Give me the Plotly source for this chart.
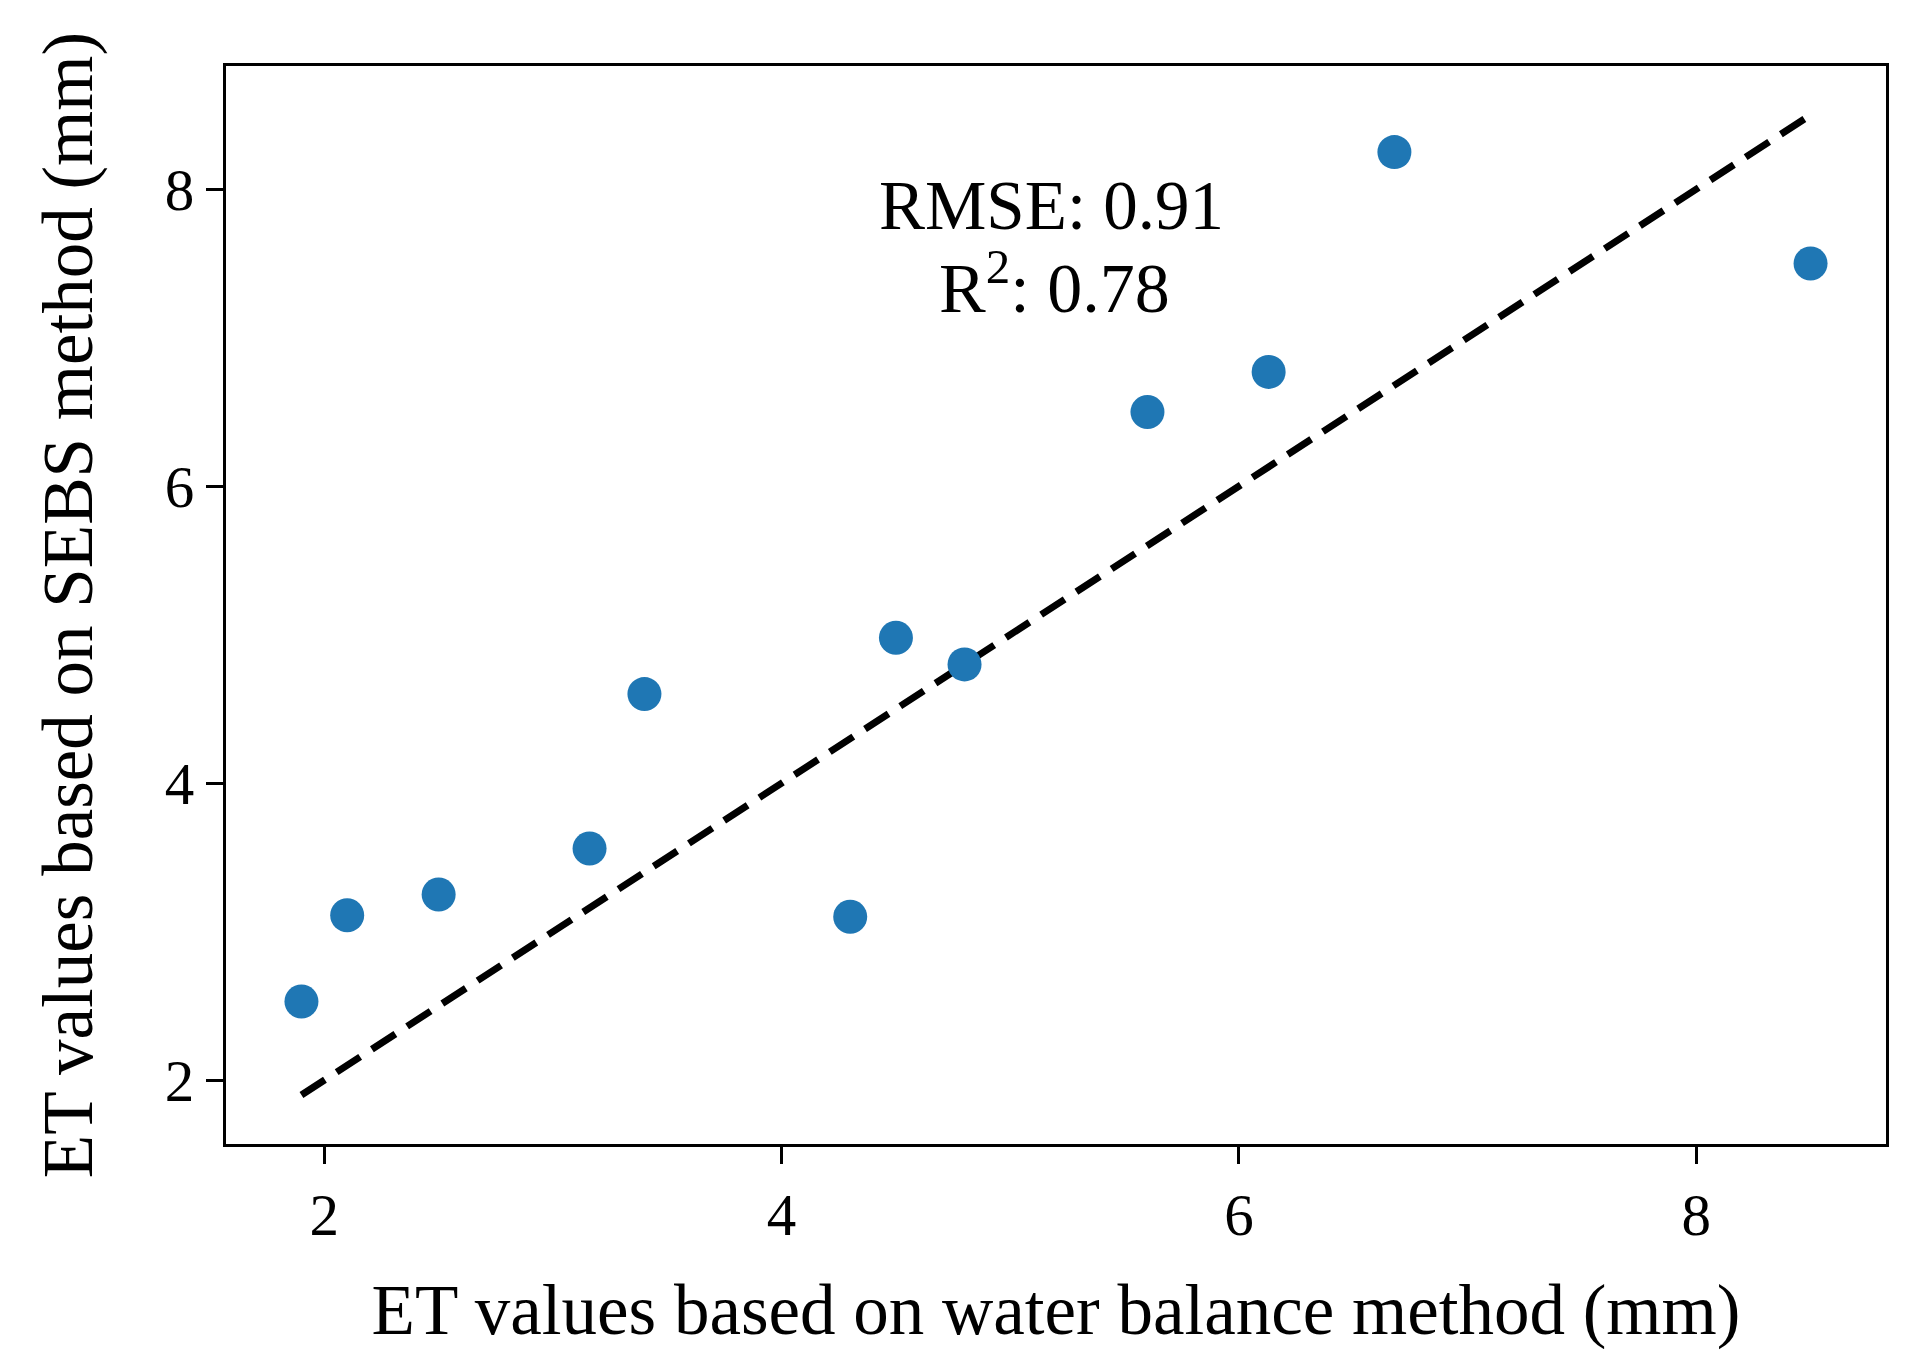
import plotly.graph_objects as go

# ET comparison data (mm)
et_balance = [1.9, 2.1, 2.5, 3.16, 3.4, 4.3, 4.5, 4.8, 5.6, 6.13, 6.68, 8.5]
et_sebs = [2.53, 3.11, 3.25, 3.56, 4.6, 3.1, 4.98, 4.8, 6.5, 6.77, 8.25, 7.5]

# 1:1 line from min to max
line_ends = [1.9, 8.5]

axis_range = [1.57, 8.83]
tick_vals = [2, 4, 6, 8]
tick_text = ["2", "4", "6", "8"]

fuente = "Times New Roman, Liberation Serif, serif"

fig = go.Figure()

fig.add_trace(go.Scatter(
    x=line_ends, y=line_ends,
    mode="lines",
    line=dict(color="black", width=7, dash="28px,14px"),
    showlegend=False,
))

fig.add_trace(go.Scatter(
    x=et_balance, y=et_sebs,
    mode="markers",
    marker=dict(color="#1f77b4", size=34, line=dict(width=0)),
    showlegend=False,
))

# Texto de métricas
fig.add_annotation(
    x=0.497, y=0.870, xref="paper", yref="paper",
    text="RMSE: 0.91", showarrow=False,
    font=dict(family=fuente, size=69, color="black"),
    xanchor="center", yanchor="middle",
)
fig.add_annotation(
    x=0.499, y=0.799, xref="paper", yref="paper",
    text="R<sup>2</sup>: 0.78", showarrow=False,
    font=dict(family=fuente, size=70, color="black"),
    xanchor="center", yanchor="middle",
)

eje = dict(
    range=axis_range,
    tickvals=tick_vals,
    ticktext=tick_text,
    ticks="outside",
    ticklen=17,
    tickwidth=3,
    tickcolor="black",
    showline=True,
    linecolor="black",
    linewidth=3,
    mirror=True,
    showgrid=False,
    zeroline=False,
    automargin=False,
    tickfont=dict(family=fuente, size=59, color="black"),
)

fig.update_layout(
    width=1920,
    height=1371,
    paper_bgcolor="white",
    plot_bgcolor="white",
    margin=dict(l=218, r=42, t=58, b=235),
    xaxis=dict(eje, title=dict(text="ET values based on water balance method (mm)",
                               font=dict(family=fuente, size=71, color="black"),
                               standoff=38)),
    yaxis=dict(eje, title=dict(text="ET values based on SEBS method (mm)",
                               font=dict(family=fuente, size=71, color="black"),
                               standoff=49)),
)

fig.write_html("out.html")
